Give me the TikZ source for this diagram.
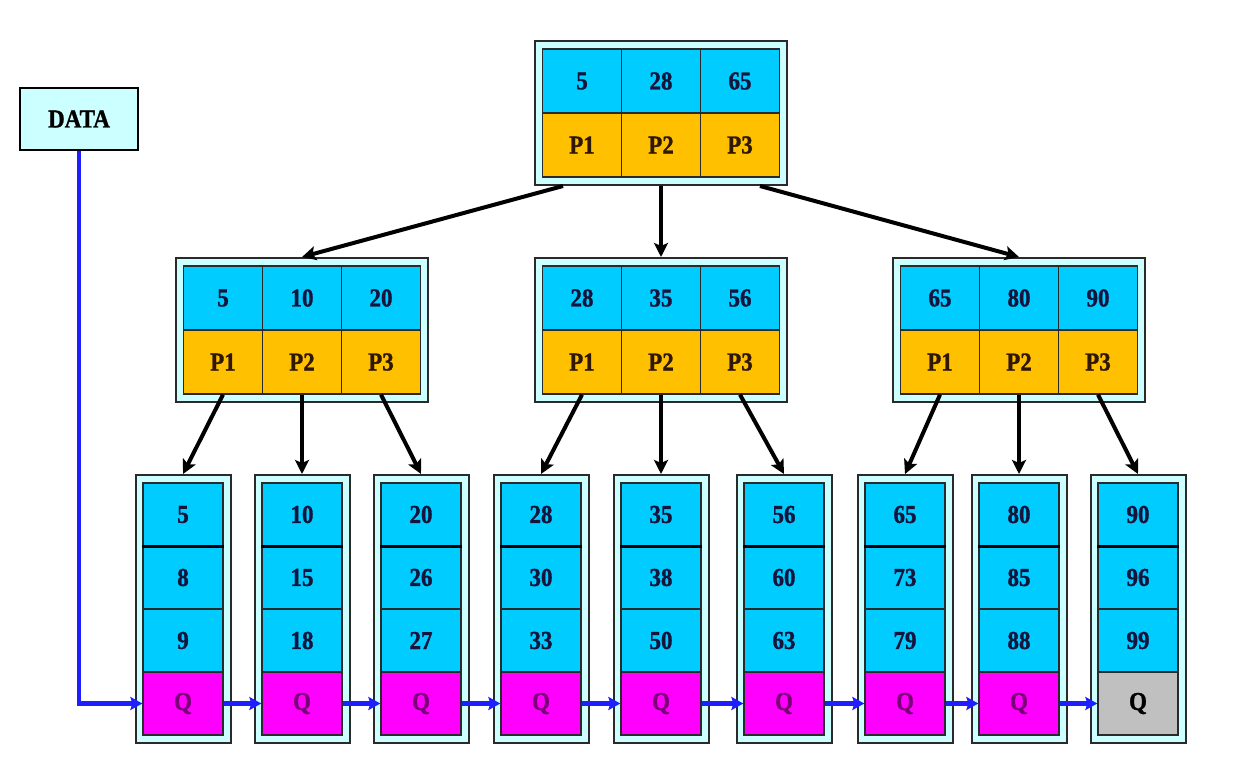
\documentclass[tikz,border=0pt]{standalone}
\usepackage{fontspec}
\usepackage{graphicx}
\setmainfont{Liberation Serif}[BoldFeatures={FakeBold=1.2}]
\usetikzlibrary{arrows.meta,calc}
\definecolor{keyc}{HTML}{00CCFF}
\definecolor{ptrc}{HTML}{FFC000}
\definecolor{qc}{HTML}{FF00FF}
\definecolor{endc}{HTML}{C0C0C0}
\definecolor{framec}{HTML}{CCFFFF}
\definecolor{framed}{HTML}{2A2A2A}
\definecolor{numc}{HTML}{14143C}
\definecolor{pc}{HTML}{301800}
\definecolor{qtext}{HTML}{7A0078}
\definecolor{linkc}{HTML}{1E1EFF}
\newcommand\tx[1]{\scalebox{1}[1.12]{#1}}
\tikzset{
  lbl/.style={font=\fontsize{23}{23}\selectfont\bfseries},
  box/.style={draw=framed, fill=framec, line width=2pt, inner sep=0pt},
  cell/.style={draw=framed, line width=1.3pt, inner sep=0pt, lbl},
  keycell/.style={cell, fill=keyc, text=numc, minimum width=79pt, minimum height=64pt},
  ptrcell/.style={cell, fill=ptrc, text=pc, minimum width=79pt, minimum height=64pt},
  leafkey/.style={cell, fill=keyc, text=numc, minimum width=80pt, minimum height=63pt},
  qcell/.style={cell, fill=qc, text=qtext, minimum width=80pt, minimum height=63pt},
  endcell/.style={cell, fill=endc, text=black, minimum width=80pt, minimum height=63pt},
  tree/.style={line width=4pt, -{Stealth[length=14pt,width=14pt,inset=3pt]}},
  link/.style={linkc, line width=4.5pt, -{Stealth[length=12pt,width=13pt,inset=2pt]}},
  databox/.style={draw=black, fill=framec, line width=1.5pt, minimum width=118pt, minimum height=62pt, inner sep=0pt, lbl, text=black}
}
\newcommand\inode[6]{%
  \node[box, minimum width=252pt, minimum height=144pt] (#1) at (#2,#3) {};
  \node[keycell] (#1k1) at (#2-79,#3-32) {\tx{#4}};
  \node[keycell] (#1k2) at (#2,#3-32) {\tx{#5}};
  \node[keycell] (#1k3) at (#2+79,#3-32) {\tx{#6}};
  \node[ptrcell] (#1p1) at (#2-79,#3+32) {\tx{P1}};
  \node[ptrcell] (#1p2) at (#2,#3+32) {\tx{P2}};
  \node[ptrcell] (#1p3) at (#2+79,#3+32) {\tx{P3}};
}
\newcommand\leafnode[6]{%
  \node[box, minimum width=95pt, minimum height=268pt] (#1) at (#2,609) {};
  \node[leafkey] (#1a) at (#2,514.5) {\tx{#3}};
  \node[leafkey] (#1b) at (#2,577.5) {\tx{#4}};
  \node[leafkey] (#1c) at (#2,640.5) {\tx{#5}};
  \node[#6] (#1q) at (#2,703.5) {\tx{Q}};
  \draw[line width=2.6pt, black] (#1a.south west) -- (#1a.south east);
}
\begin{document}
\begin{tikzpicture}[x=1pt,y=-1pt]
\useasboundingbox (0,0) rectangle (1234,762);
\node[databox] (data) at (79,119) {\tx{DATA}};
\inode{R}{661}{113}{5}{28}{65}
\inode{A}{302}{330}{5}{10}{20}
\inode{B}{661}{330}{28}{35}{56}
\inode{C}{1019}{330}{65}{80}{90}
\leafnode{La}{183}{5}{8}{9}{qcell}
\leafnode{Lb}{302}{10}{15}{18}{qcell}
\leafnode{Lc}{421}{20}{26}{27}{qcell}
\leafnode{Ld}{541}{28}{30}{33}{qcell}
\leafnode{Le}{661}{35}{38}{50}{qcell}
\leafnode{Lf}{784}{56}{60}{63}{qcell}
\leafnode{Lg}{905}{65}{73}{79}{qcell}
\leafnode{Lh}{1019}{80}{85}{88}{qcell}
\leafnode{Li}{1138}{90}{96}{99}{endcell}
% root to level 2
\draw[tree] ([xshift=-98pt]R.south) -- (A.north);
\draw[tree] (R.south) -- (B.north);
\draw[tree] ([xshift=99pt]R.south) -- (C.north);
% level 2 to leaves
\draw[tree] (Ap1.south) -- (La.north);
\draw[tree] (Ap2.south) -- (Lb.north);
\draw[tree] (Ap3.south) -- (Lc.north);
\draw[tree] (Bp1.south) -- (Ld.north);
\draw[tree] (Bp2.south) -- (Le.north);
\draw[tree] (Bp3.south) -- (Lf.north);
\draw[tree] (Cp1.south) -- (Lg.north);
\draw[tree] (Cp2.south) -- (Lh.north);
\draw[tree] (Cp3.south) -- (Li.north);
% leaf chain
\draw[link] (data.south) |- (Laq.west);
\draw[link] (Laq.east) -- (Lbq.west);
\draw[link] (Lbq.east) -- (Lcq.west);
\draw[link] (Lcq.east) -- (Ldq.west);
\draw[link] (Ldq.east) -- (Leq.west);
\draw[link] (Leq.east) -- (Lfq.west);
\draw[link] (Lfq.east) -- (Lgq.west);
\draw[link] (Lgq.east) -- (Lhq.west);
\draw[link] (Lhq.east) -- (Liq.west);
\end{tikzpicture}
\end{document}
